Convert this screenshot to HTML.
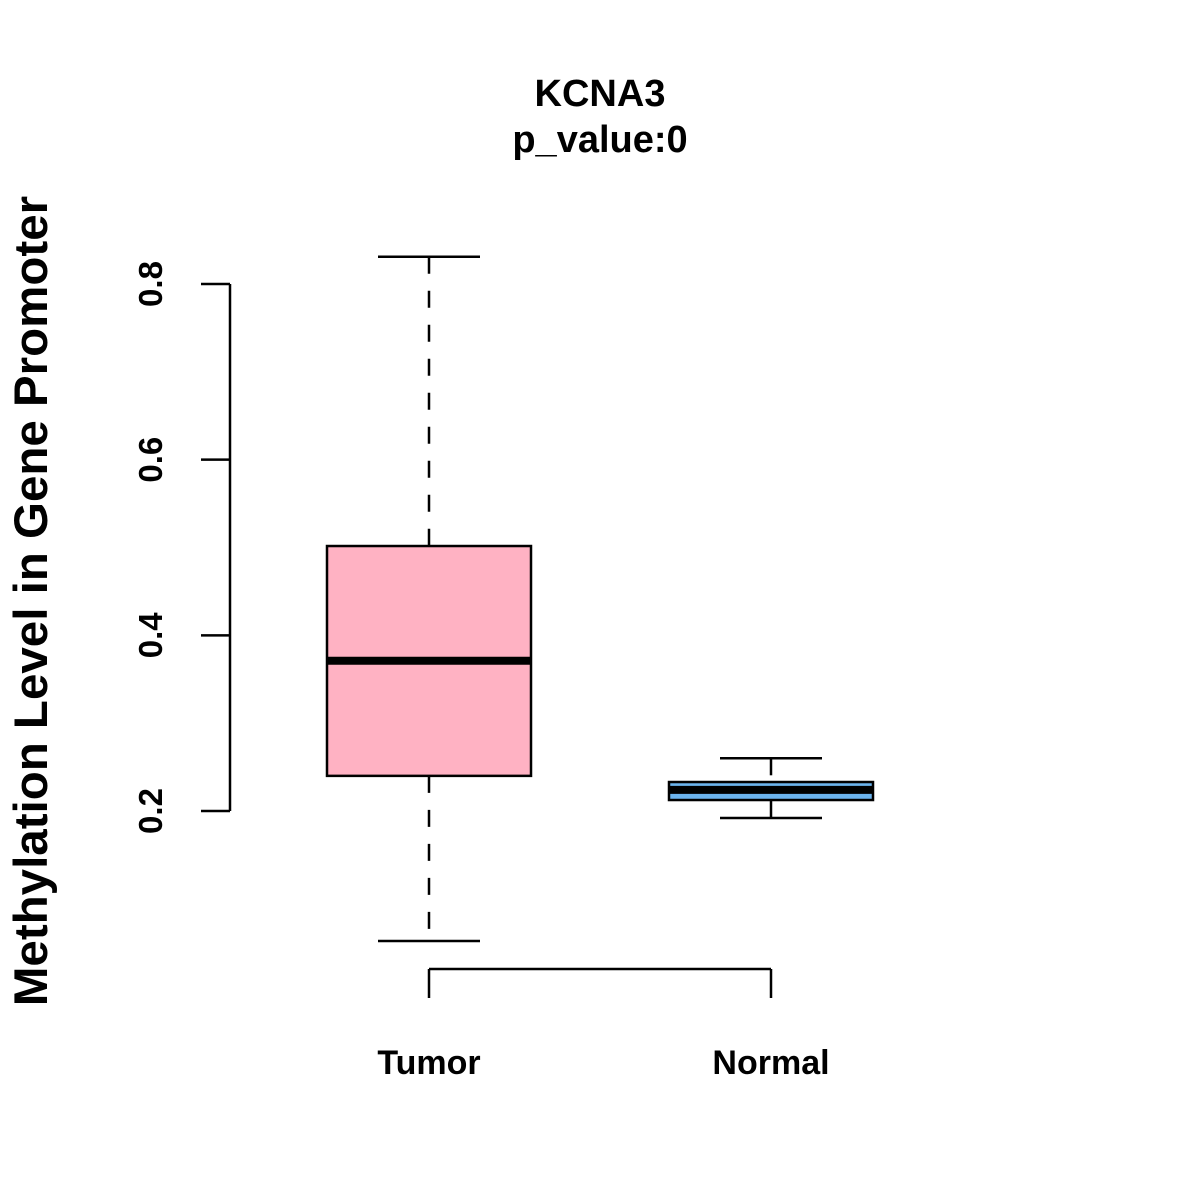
<!DOCTYPE html>
<html><head><meta charset="utf-8"><style>body{margin:0;background:#fff}svg{display:block}text{font-family:"Liberation Sans",sans-serif;font-weight:bold}</style></head>
<body>
<svg id="chart" width="1200" height="1200" viewBox="0 0 1200 1200" xmlns="http://www.w3.org/2000/svg">
<rect width="1200" height="1200" fill="#fff"/>
<text x="600" y="106" font-size="38" text-anchor="middle">KCNA3</text>
<text x="600" y="152" font-size="38" text-anchor="middle">p_value:0</text>
<text transform="translate(47,601) rotate(-90)" font-size="47.5" text-anchor="middle">Methylation Level in Gene Promoter</text>
<g id="yaxis"></g>
<g id="xaxis"></g>
<g id="boxes"></g>
</svg>
<script>
const categories = ["Tumor", "Normal"];
const whiskerLow = [0.052, 0.192];
const q1 = [0.240, 0.2125];
const medians = [0.371, 0.224];
const q3 = [0.5017, 0.233];
const whiskerHigh = [0.831, 0.260];
const fills = ["#FFB2C3", "#6CB4EE"];
const yTicks = [0.2, 0.4, 0.6, 0.8];
const yTickLabels = ["0.2", "0.4", "0.6", "0.8"];

const NS = "http://www.w3.org/2000/svg";
function y(v){ return 811 - (v - 0.2) * 878.3; }
function x(i){ return 429 + i * 342; }
function mk(tag, attrs, parent){ const e = document.createElementNS(NS, tag); for (const k in attrs) e.setAttribute(k, attrs[k]); parent.appendChild(e); return e; }

const ya = document.getElementById('yaxis');
let l = mk('line', {x1:230, x2:230, y1:y(yTicks[yTicks.length-1]), y2:y(yTicks[0]), stroke:'#000', 'stroke-width':2.5}, ya);


yTicks.forEach((t, i) => {
  const tk = mk('line', {x1:201, x2:230, y1:y(t), y2:y(t), stroke:'#000', 'stroke-width':2.5}, ya);
  
  
  const tx = mk('text', {transform:`translate(162,${y(t)}) rotate(-90)`, 'font-size':33, 'text-anchor':'middle'}, ya);
  tx.textContent = yTickLabels[i];
  
  
});

const xa = document.getElementById('xaxis');
l = mk('line', {x1:x(0), x2:x(categories.length-1), y1:969, y2:969, stroke:'#000', 'stroke-width':2.5}, xa);


categories.forEach((c, i) => {
  const tk = mk('line', {x1:x(i), x2:x(i), y1:969, y2:998, stroke:'#000', 'stroke-width':2.5}, xa);
  
  
  const tx = mk('text', {x:x(i), y:1074, 'font-size':34, 'text-anchor':'middle'}, xa);
  tx.textContent = c;
  
  
});

const bx = document.getElementById('boxes');
categories.forEach((c, i) => {
  const cx = x(i);
  const g = mk('g', {}, bx);
  
  
  mk('line', {x1:cx, x2:cx, y1:y(whiskerHigh[i]), y2:y(q3[i]), stroke:'#000', 'stroke-width':2.5, 'stroke-dasharray':'17,17'}, g);
  mk('line', {x1:cx, x2:cx, y1:y(q1[i]), y2:y(whiskerLow[i]), stroke:'#000', 'stroke-width':2.5, 'stroke-dasharray':'17,17'}, g);
  mk('line', {x1:cx-51, x2:cx+51, y1:y(whiskerHigh[i]), y2:y(whiskerHigh[i]), stroke:'#000', 'stroke-width':2.5}, g);
  mk('line', {x1:cx-51, x2:cx+51, y1:y(whiskerLow[i]), y2:y(whiskerLow[i]), stroke:'#000', 'stroke-width':2.5}, g);
  mk('rect', {x:cx-102, y:y(q3[i]), width:204, height:y(q1[i])-y(q3[i]), fill:fills[i], stroke:'#000', 'stroke-width':2.5}, g);
  mk('line', {x1:cx-102, x2:cx+102, y1:y(medians[i]), y2:y(medians[i]), stroke:'#000', 'stroke-width':8}, g);
});
</script>
</body></html>
